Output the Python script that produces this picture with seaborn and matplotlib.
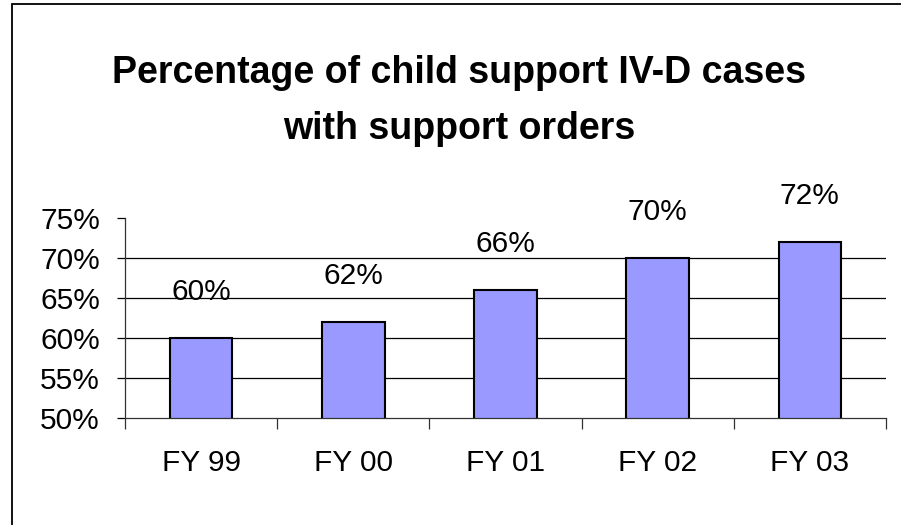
import numpy as np
import pandas as pd
import seaborn as sns
import matplotlib.pyplot as plt
from matplotlib.patches import Rectangle
from matplotlib.ticker import FuncFormatter, FixedLocator

# data
years = ['FY 99', 'FY 00', 'FY 01', 'FY 02', 'FY 03']
pct_with_orders = [60, 62, 66, 70, 72]
y_ticks = [50, 55, 60, 65, 70, 75]

df = pd.DataFrame({'year': years, 'pct': pct_with_orders})

sns.set_theme(style='white')
plt.rcParams['font.family'] = ['Liberation Sans', 'DejaVu Sans']
plt.rcParams['text.color'] = 'black'
plt.rcParams['xtick.color'] = 'black'
plt.rcParams['ytick.color'] = 'black'

W, H = 901, 525
fig = plt.figure(figsize=(W / 100, H / 100), dpi=100)
ax = fig.add_axes([125 / W, 1 - 418 / H, (886 - 125) / W, (418 - 218) / H])

sns.barplot(data=df, x='year', y='pct', ax=ax, color='#9999FF',
            saturation=1, width=0.41, edgecolor='black', linewidth=1.5)

ax.set_ylim(50, 75)
ax.set_xlim(-0.5, len(years) - 0.5)
ax.set_yticks(y_ticks)
ax.yaxis.set_major_formatter(FuncFormatter(lambda v, p: f'{v:.0f}%'))

# gridlines only inside the plot area (not at the top edge)
for v in y_ticks[1:-1]:
    ax.axhline(v, color='black', lw=0.9, zorder=0)

# category labels centred, tick marks on category boundaries
ax.xaxis.set_major_locator(FixedLocator(np.arange(len(years) + 1) - 0.5))
ax.xaxis.set_minor_locator(FixedLocator(np.arange(len(years))))
ax.xaxis.set_major_formatter(FuncFormatter(lambda v, p: ''))
ax.xaxis.set_minor_formatter(FuncFormatter(lambda v, p: years[int(round(v))]))
ax.tick_params(axis='x', which='major', direction='out', length=8,
               width=0.9, color='#333333', bottom=True)
ax.tick_params(axis='x', which='minor', length=0, pad=22, labelsize=21.5,
               labelcolor='black', bottom=True)
ax.tick_params(axis='y', direction='out', length=6, width=0.9,
               color='black', labelcolor='black', left=True, pad=12,
               labelsize=21.5)
ax.set_xlabel('')
ax.set_ylabel('')

for s in ['top', 'right']:
    ax.spines[s].set_visible(False)
for s in ['left', 'bottom']:
    ax.spines[s].set_color('#333333')
    ax.spines[s].set_linewidth(0.9)

for i, v in enumerate(pct_with_orders):
    ax.annotate(f'{v}%', (i, v), xytext=(0, 33), textcoords='offset points',
                ha='center', va='center', fontsize=21.5, color='black',
                clip_on=False)

fig.text(459 / W, 1 - 101 / H, 'Percentage of child support IV-D cases\nwith support orders',
         ha='center', va='center', fontsize=27, fontweight='bold',
         color='black', linespacing=1.72)

# outer chart frame (only top and left edges are in view)
fig.add_artist(Rectangle((11.5 / W, -0.5), 2, 0.5 + (H - 4.5) / H,
                         transform=fig.transFigure, fill=False,
                         edgecolor='black', lw=1.3))

fig.savefig('out.png', dpi=100, facecolor='white')
